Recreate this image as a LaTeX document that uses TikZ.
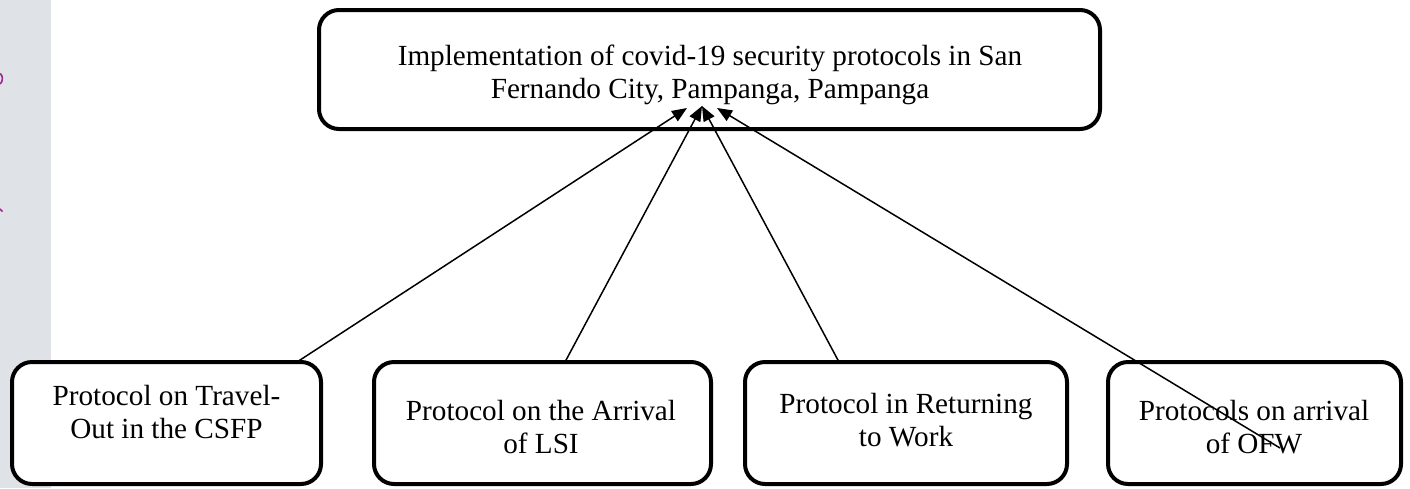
\documentclass[tikz,border=0pt]{standalone}
\usepackage{fontspec}
\setmainfont{Liberation Serif}
\usetikzlibrary{arrows.meta}
\definecolor{stripgrey}{HTML}{DFE2E6}
\definecolor{markpurple}{HTML}{9E2A90}
\begin{document}
\begin{tikzpicture}[x=1pt,y=-1pt,
  rbox/.style={draw=black, line width=4pt, rounded corners=20pt, fill=white, inner sep=0pt},
  txt/.style={inner sep=0pt, align=center, font=\fontsize{29.2}{33}\selectfont},
  conn/.style={line width=1.5pt, -{Triangle[length=15pt,width=12pt]}}
]
\useasboundingbox (0,0) rectangle (1410,488);
% left grey strip with cut-off marks
\fill[stripgrey] (0,0) rectangle (51,488);
\draw[markpurple, line width=1.6pt] (0,73.5) .. controls (3.2,75) and (3.2,82) .. (0,84);
\draw[markpurple, line width=1.6pt] (0,209) -- (2.6,211.5);

% boxes
\node[rbox, minimum width=781pt, minimum height=119pt] (top) at (709.5,69.5) {};
\node[rbox, minimum width=309pt, minimum height=122pt] (b1) at (166.5,423) {};
\node[rbox, minimum width=337pt, minimum height=122pt] (b2) at (542.5,423) {};
\node[rbox, minimum width=322pt, minimum height=122pt] (b3) at (906,423) {};
\node[rbox, minimum width=293pt, minimum height=122pt] (b4) at (1254.5,423) {};

% texts
\node[txt] (ttop) at (710,74.9) {\strut Implementation of covid-19 security protocols in San\\\strut Fernando City, Pampanga, Pampanga};
\node[txt] (t1) at (166.5,414.9) {\strut Protocol on Travel-\\\strut Out in the CSFP};
\node[txt] (t2) at (541,429.9) {\strut Protocol on the Arrival\\\strut of LSI};
\node[txt] (t3) at (906,423) {\strut Protocol in Returning\\\strut to Work};
\node[txt] (t4) at (1254,429.9) {\strut Protocols on arrival\\\strut of OFW};

% connector end points
\coordinate (s1) at (297,362);
\coordinate (s2) at (565,362);
\coordinate (s3) at (839,362);
\coordinate (s4) at (1280,448);
\coordinate (e1) at (687,108);
\coordinate (e2) at (702,106);
\coordinate (e3) at (702,106);
\coordinate (e4) at (717,108);

\draw[conn] (s1) -- (e1);
\draw[conn] (s2) -- (e2);
\draw[conn] (s3) -- (e3);
\draw[conn] (s4) -- (e4);
\end{tikzpicture}
\end{document}
